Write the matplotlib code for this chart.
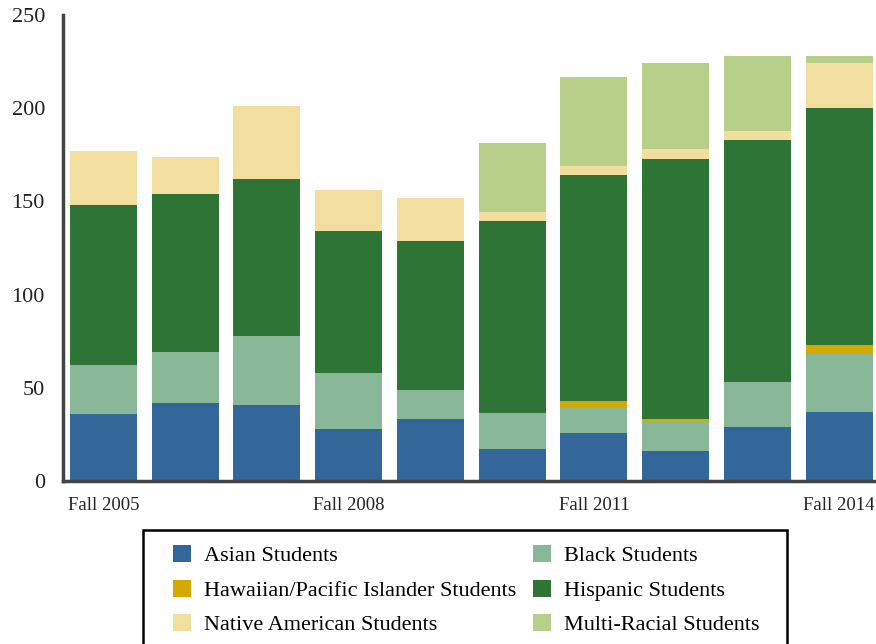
import matplotlib
matplotlib.use("Agg")
import matplotlib.pyplot as plt
import matplotlib.patches as mpatches
import numpy as np

years = ["Fall 2005", "Fall 2006", "Fall 2007", "Fall 2008", "Fall 2009",
         "Fall 2010", "Fall 2011", "Fall 2012", "Fall 2013", "Fall 2014"]
tick_labels = ["Fall 2005", "", "", "Fall 2008", "", "", "Fall 2011", "", "", "Fall 2014"]

asian = [36, 42, 41, 28, 33, 17, 26, 16, 29, 37]
black = [26, 27, 37, 30, 16, 19, 13, 16, 24, 31]
hawaiian = [0, 0, 0, 0, 0, 0.5, 4, 1, 0, 5]
hispanic = [86, 85, 84, 76, 80, 103, 121, 140, 130, 127]
native = [29, 20, 39, 22, 23, 5, 5, 5, 5, 24]
multi = [0, 0, 0, 0, 0, 37, 48, 46, 40, 4]

series = [
    ("Asian Students", asian, "#336699"),
    ("Black Students", black, "#88B898"),
    ("Hawaiian/Pacific Islander Students", hawaiian, "#D4AA00"),
    ("Hispanic Students", hispanic, "#2E7535"),
    ("Native American Students", native, "#F2DE9E"),
    ("Multi-Racial Students", multi, "#B8CF8A"),
]

plt.rcParams['font.family'] = ['Liberation Serif', 'DejaVu Serif']

W, H = 876, 644
fig = plt.figure(figsize=(W / 100, H / 100), dpi=100)
ax = fig.add_axes([63 / W, 1 - 481 / H, (876 - 63) / W, (481 - 15) / H])

x = np.arange(len(years))
bottom = np.zeros(len(years))
handles = []
for name, vals, col in series:
    v = np.array(vals, dtype=float)
    b = ax.bar(x, v, width=0.82, bottom=bottom, color=col, label=name, linewidth=0)
    handles.append(b)
    bottom += v

ax.set_xlim(-0.495, 9.45)
ax.set_ylim(0, 250)
ax.set_yticks([0, 50, 100, 150, 200, 250])
ax.set_xticks(x)
ax.set_xticklabels(tick_labels)
ax.tick_params(axis='both', length=0, colors='#222222')
ax.tick_params(axis='y', pad=13, labelsize=16)
ax.tick_params(axis='x', pad=11.5, labelsize=13.5)
for s in ['top', 'right']:
    ax.spines[s].set_visible(False)
for s in ['left', 'bottom']:
    ax.spines[s].set_color('#444444')
    ax.spines[s].set_linewidth(2.5)

# legend box
box = mpatches.Rectangle((143 / W, 1 - 652 / H), (787 - 143) / W, (652 - 530) / H,
                         transform=fig.transFigure, facecolor='white',
                         edgecolor='black', linewidth=1.8, zorder=0)
fig.patches.append(box)

order = [0, 2, 4, 1, 3, 5]
fs = 16
leg = fig.legend([handles[i] for i in order], [series[i][0] for i in order],
                 loc='upper left', bbox_to_anchor=(173 / W, 1 - 545 / H),
                 bbox_transform=fig.transFigure, ncol=2, frameon=False,
                 fontsize=fs, handlelength=0.8, handleheight=0.8,
                 handletextpad=0.6, columnspacing=0.75, labelspacing=0.6,
                 borderpad=0, borderaxespad=0)

fig.savefig("out.png", dpi=100)
